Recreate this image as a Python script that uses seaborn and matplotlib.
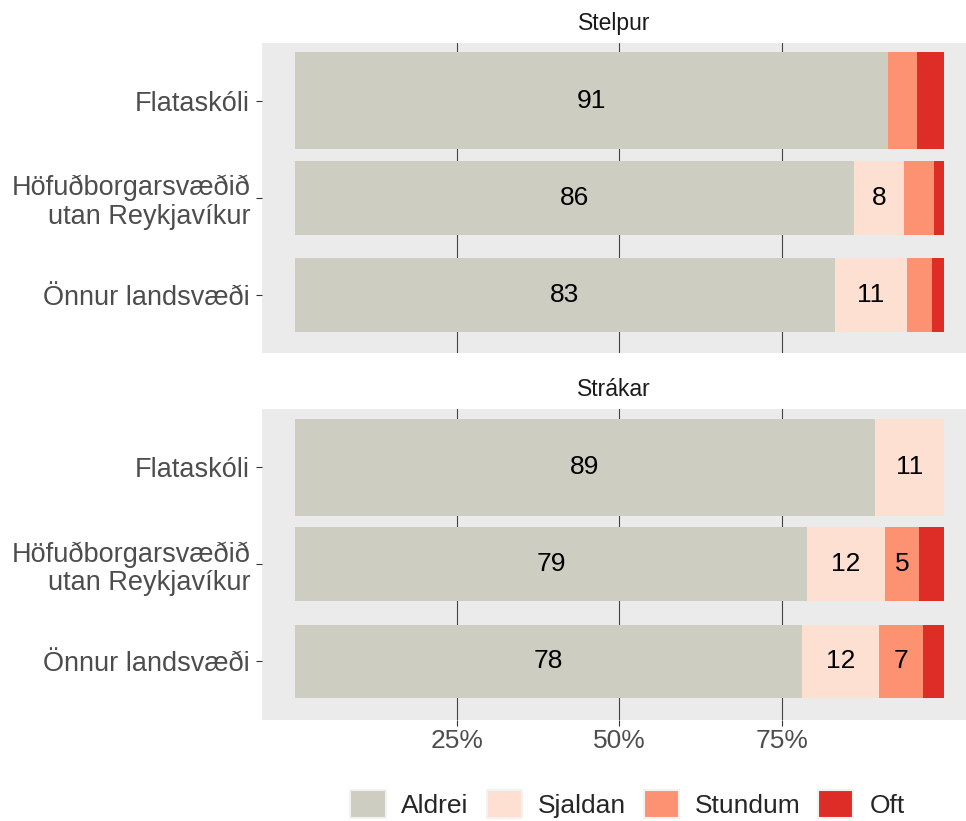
'''stacked bar chart of how often girls/boys answer per region'''

import numpy as np
import pandas as pd
import seaborn as sns
import matplotlib.pyplot as plt
from matplotlib.patches import Patch

# data (percent)
schools = ['Flataskóli', 'Höfuðborgarsvæðið\nutan Reykjavíkur', 'Önnur landsvæði']
levels = ['Aldrei', 'Sjaldan', 'Stundum', 'Oft']
panels = ['Stelpur', 'Strákar']

stelpur_aldrei = [91.4, 86.1, 83.2]
stelpur_sjaldan = [0.0, 7.8, 11.1]
stelpur_stundum = [4.4, 4.6, 3.9]
stelpur_oft = [4.2, 1.5, 1.8]

strakar_aldrei = [89.4, 78.9, 78.2]
strakar_sjaldan = [10.6, 12.0, 11.8]
strakar_stundum = [0.0, 5.3, 6.8]
strakar_oft = [0.0, 3.8, 3.2]

x_ticks = [25, 50, 75]
x_tick_labels = ['25%', '50%', '75%']

colors = ['#CDCDC1', '#FEE0D2', '#FC9272', '#DE2D26']
bar_widths = [1.0, 0.76, 0.76]

sns.set_theme(style='darkgrid', rc={'axes.facecolor': '#EBEBEB',
                                    'grid.color': '#444444',
                                    'grid.linewidth': 0.8})
plt.rcParams['font.family'] = ['Liberation Sans', 'DejaVu Sans']

fig = plt.figure(figsize=(9.66, 8.21), dpi=100)
W, H = 966, 821
ax_top = fig.add_axes([262 / W, 1 - 353.3 / H, 1 - 262 / W, (353.3 - 42.7) / H])
ax_bot = fig.add_axes([262 / W, 1 - 719.7 / H, 1 - 262 / W, (719.7 - 409) / H])


def draw_panel(ax, vals, title, show_x):
    df = pd.DataFrame({'school': schools})
    for lev, v in zip(levels, vals):
        df[lev] = v
    cum = df[levels].cumsum(axis=1)
    for i in range(len(schools)):
        # draw cumulative bars from the back so they stack
        for lev, c in reversed(list(zip(levels, colors))):
            sub = pd.DataFrame({'school': [schools[i]], 'x': [cum.loc[i, lev]]})
            sns.barplot(data=sub, x='x', y='school', order=schools, orient='h',
                        width=bar_widths[i], color=c, saturation=1,
                        linewidth=0, ax=ax)
        left = 0
        for lev in levels:
            v = df.loc[i, lev]
            if v >= 5:
                ax.text(left + v / 2, i, f'{round(v):.0f}', ha='center',
                        va='center', fontsize=19, color='black')
            left += v

    ax.set_xlim(-5.08, 103.4)
    ax.set_ylim(2.6, -0.6)
    ax.set_xlabel('')
    ax.set_ylabel('')
    ax.grid(axis='y', visible=False)
    ax.grid(axis='x', visible=True)
    ax.set_axisbelow(True)
    ax.set_xticks(x_ticks)
    for s in ax.spines.values():
        s.set_visible(False)
    ax.tick_params(axis='y', left=True, length=4, width=0.8, color='#333333',
                   labelsize=19.5, labelcolor='#4D4D4D', pad=4.5)
    ax.set_yticks(range(len(schools)))
    ax.set_yticklabels(schools, linespacing=1.12)
    if show_x:
        ax.set_xticklabels(x_tick_labels)
        ax.tick_params(axis='x', bottom=True, length=4, width=0.8,
                       color='#333333', labelsize=19, labelcolor='#4D4D4D', pad=3)
    else:
        ax.set_xticklabels([])
        ax.tick_params(axis='x', bottom=False, length=0)
    ax.set_title(title, fontsize=16.5, color='#1A1A1A', pad=9)


draw_panel(ax_top, [stelpur_aldrei, stelpur_sjaldan, stelpur_stundum, stelpur_oft],
           panels[0], False)
draw_panel(ax_bot, [strakar_aldrei, strakar_sjaldan, strakar_stundum, strakar_oft],
           panels[1], True)

handles = [Patch(facecolor=c, edgecolor='#F2F2F2', linewidth=1.5) for c in colors]
fig.legend(handles, levels, loc='center', bbox_to_anchor=(0.6496, 0.0207), ncol=4,
           frameon=False, fontsize=19, handlelength=1.33, handleheight=1.25,
           handletextpad=0.6, columnspacing=0.68)

fig.savefig('out.png', dpi=100)
